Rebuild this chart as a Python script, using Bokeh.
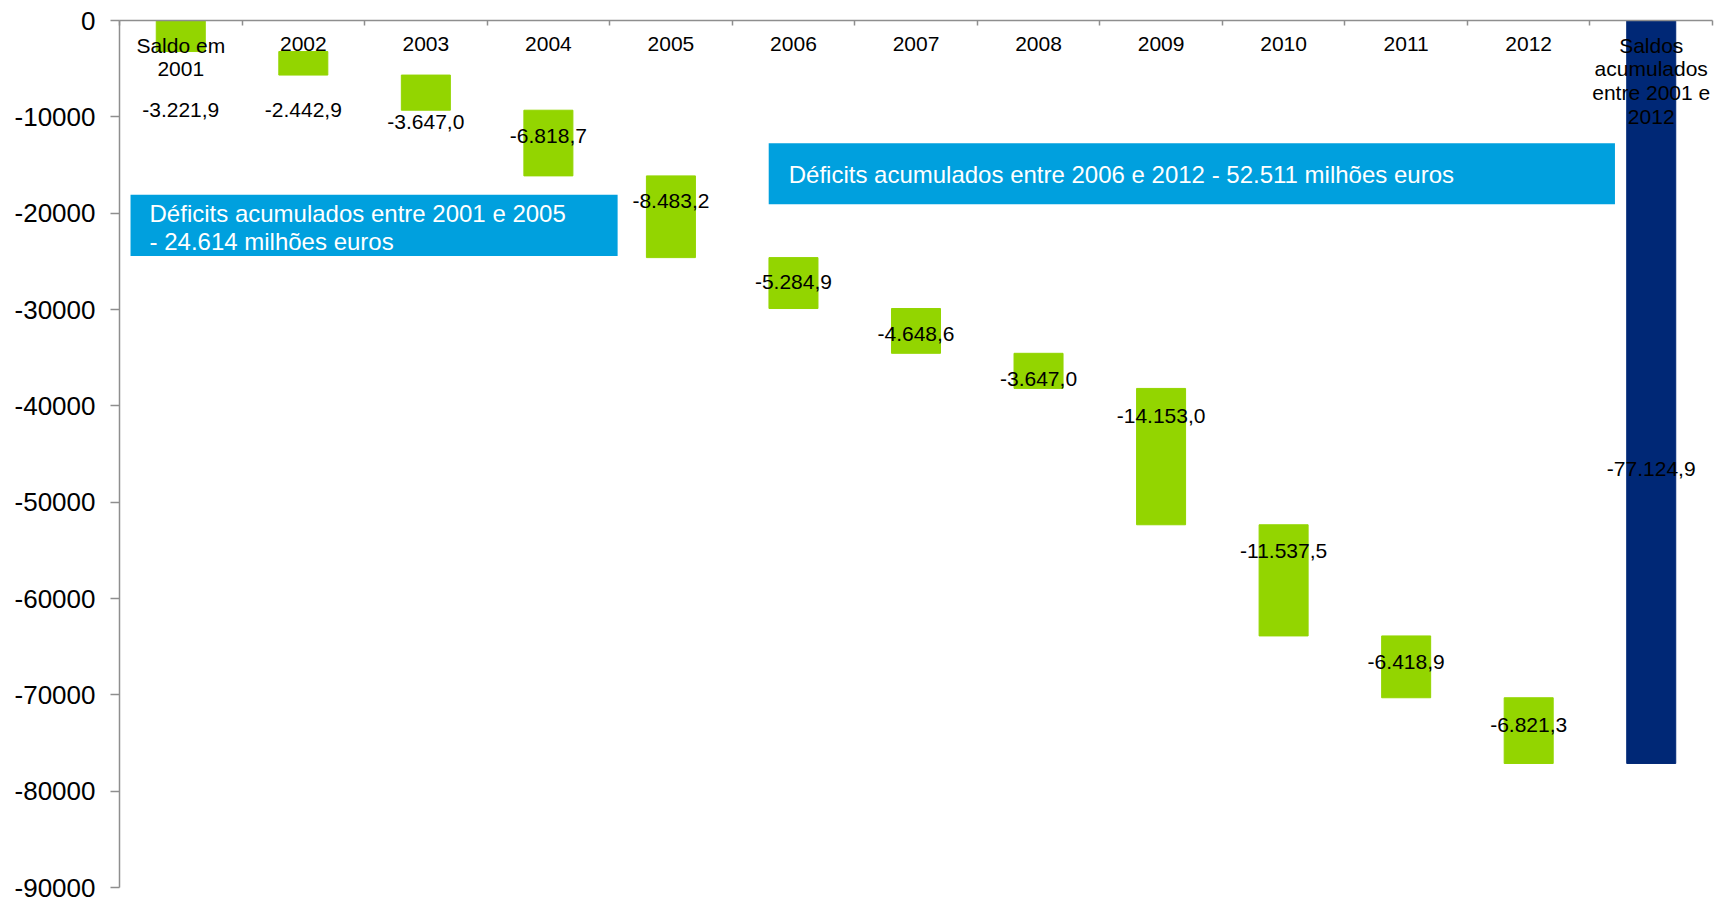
from bokeh.plotting import figure
from bokeh.models import ColumnDataSource, FixedTicker, Range1d
from bokeh.core.properties import value
from bokeh.embed import file_html
from bokeh.resources import INLINE

# ---------------- data ----------------
categories = ["Saldo em\n2001", "2002", "2003", "2004", "2005", "2006", "2007",
              "2008", "2009", "2010", "2011", "2012",
              "Saldos\nacumulados\nentre 2001 e\n2012"]
yearly_balance = [-3221.9, -2442.9, -3647.0, -6818.7, -8483.2, -5284.9,
                  -4648.6, -3647.0, -14153.0, -11537.5, -6418.9, -6821.3]
accumulated_total = -77124.9
y_ticks = [0, -10000, -20000, -30000, -40000, -50000, -60000, -70000, -80000, -90000]
box1_text = "Déficits acumulados entre 2001 e 2005\n- 24.614 milhões euros"
box2_text = "Déficits acumulados entre 2006 e 2012 - 52.511 milhões euros"

# ---------------- styling / layout ----------------
FONT = value("Liberation Sans")
GREEN = "#93D500"
NAVY = "#002876"
BOX_BLUE = "#00A0DE"
AXIS_GRAY = "#8E8E8E"

# label nudges in screen pixels (positive = down)
label_nudge = [74, 47, 29, -7, -16, -1, 3, 8, -41, -29, -5, -6, 77]


def pt_fmt(v):
    s = f"{v:,.1f}"
    return s.replace(",", "X").replace(".", ",").replace("X", ".")


# waterfall geometry derived from the data
tops, bottoms = [], []
running = 0.0
for d in yearly_balance:
    tops.append(running)
    running += d
    bottoms.append(running)
tops.append(0.0)
bottoms.append(accumulated_total)

xs = [i + 0.5 for i in range(len(categories))]
colors = [GREEN] * len(yearly_balance) + [NAVY]
labels = [pt_fmt(v) for v in yearly_balance + [accumulated_total]]
centers = [(t + b) / 2 for t, b in zip(tops, bottoms)]
cat_offset = [13 if "\n" in c else 16 for c in categories]

src = ColumnDataSource(dict(x=xs, top=tops, bottom=bottoms, color=colors,
                            label=labels, cy=centers, nudge=label_nudge,
                            cat=categories, cat_off=cat_offset,
                            zero=[0.0] * len(xs)))

p = figure(width=1715, height=902,
           x_range=Range1d(0, len(categories)), y_range=Range1d(-90000, 0),
           output_backend="svg", toolbar_location=None,
           x_axis_location="above",
           min_border_left=119, min_border_top=20,
           min_border_bottom=15, min_border_right=3)
p.outline_line_color = None
p.xgrid.visible = False
p.ygrid.visible = False
p.background_fill_color = "white"
p.border_fill_color = "white"

# top (category) axis: only boundary ticks, labels drawn inside the plot
p.xaxis.ticker = FixedTicker(ticks=[], minor_ticks=list(range(len(categories) + 1)))
p.xaxis.major_label_standoff = 0
p.xaxis.major_tick_line_color = None
p.xaxis.minor_tick_in = 5
p.xaxis.minor_tick_out = 0
p.xaxis.minor_tick_line_color = AXIS_GRAY
p.xaxis.minor_tick_line_width = 1.5
p.xaxis.axis_line_color = AXIS_GRAY
p.xaxis.axis_line_width = 1.5

# value axis
p.yaxis.ticker = FixedTicker(ticks=y_ticks)
p.yaxis.major_label_overrides = {t: str(t) for t in y_ticks}
p.yaxis.major_label_text_font = "Liberation Sans"
p.yaxis.major_label_text_font_size = "26px"
p.yaxis.major_label_text_color = "black"
p.yaxis.major_label_standoff = 15
p.yaxis.major_tick_in = 0
p.yaxis.major_tick_out = 9
p.yaxis.minor_tick_line_color = None
p.yaxis.axis_line_color = AXIS_GRAY
p.yaxis.axis_line_width = 1.5
p.yaxis.major_tick_line_color = AXIS_GRAY
p.yaxis.major_tick_line_width = 1.5

# annotation boxes (in category / value units)
box_left = [0.09, 5.298]
box_right = [4.065, 12.204]
box_top = [-18076, -12745]
box_bottom = [-24438, -19076]
p.quad(left=box_left, right=box_right, top=box_top, bottom=box_bottom,
       fill_color=BOX_BLUE, line_color=None)
p.text(x=[box_left[0]], y=[(box_top[0] + box_bottom[0]) / 2], text=[box1_text],
       x_offset=19, y_offset=2, text_font=FONT, text_font_size="24px",
       text_color="white", text_align="left", text_baseline="middle",
       text_line_height=1.02)
p.text(x=[box_left[1]], y=[(box_top[1] + box_bottom[1]) / 2], text=[box2_text],
       x_offset=20, y_offset=1, text_font=FONT, text_font_size="24px",
       text_color="white", text_align="left", text_baseline="middle")

# bars
p.vbar(x="x", top="top", bottom="bottom", width=0.4, source=src,
       fill_color="color", line_color="color")

# category labels (inside the plot, under the top axis)
p.text(x="x", y="zero", text="cat", source=src, y_offset="cat_off",
       text_font=FONT, text_font_size="21px", text_color="black",
       text_align="center", text_baseline="top", text_line_height=1.043)

# data labels
p.text(x="x", y="cy", text="label", source=src, y_offset="nudge",
       text_font=FONT, text_font_size="21px", text_color="black",
       text_align="center", text_baseline="middle")

open("out.html", "w").write(file_html(p, INLINE))
